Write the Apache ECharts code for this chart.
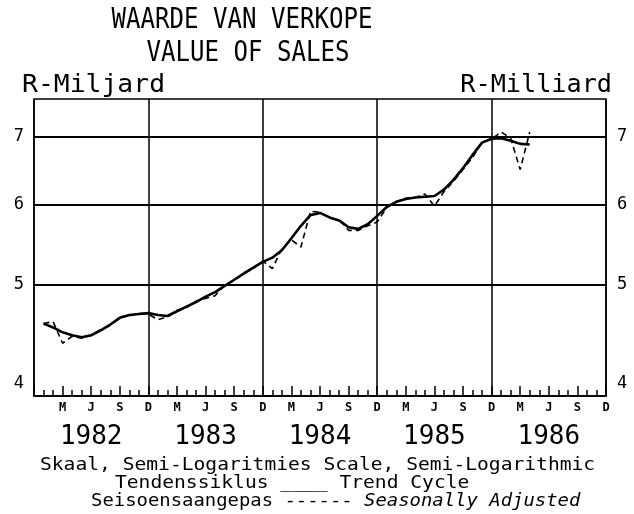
<!DOCTYPE html>
<html>
<head>
<meta charset="utf-8">
<script src="https://cdn.jsdelivr.net/npm/echarts@6/dist/echarts.min.js"></script>
<style>html,body{margin:0;padding:0;background:#fff}#c{width:634px;height:514px}</style>
</head>
<body>
<div id="c"></div>
<script>
// Months indexed from Dec 1981 (0) to Dec 1986 (60); series start at Jan 1982 (1)
const firstMonth = 1;
const trendCycle = [4.58,4.54,4.49,4.46,4.44,4.46,4.51,4.57,4.64,4.67,4.68,4.69,
  4.67,4.66,4.71,4.76,4.81,4.87,4.92,4.99,5.06,5.13,5.20,5.27,
  5.32,5.41,5.56,5.72,5.86,5.89,5.83,5.79,5.70,5.68,5.74,5.85,
  5.97,6.04,6.08,6.10,6.11,6.12,6.21,6.35,6.52,6.72,6.91,6.97,
  6.98,6.94,6.89,6.88];
const seasonallyAdjusted = [4.58,4.60,4.38,4.45,4.43,4.46,4.52,4.56,4.65,4.66,4.69,4.68,
  4.62,4.65,4.72,4.75,4.82,4.85,4.88,5.00,5.05,5.14,5.19,5.28,
  5.19,5.43,5.54,5.45,5.91,5.90,5.82,5.80,5.66,5.66,5.72,5.77,
  5.96,6.04,6.09,6.10,6.15,5.98,6.18,6.33,6.50,6.68,6.92,6.96,
  7.08,6.98,6.50,7.08];
const quarterLabels = {3:'M', 6:'J', 9:'S', 0:'D'};
const years = ['1982','1983','1984','1985','1986'];
const yLabelValues = [4,5,6,7];
const yGridValues = [5,6,7];

const mono = '"DejaVu Sans Mono", monospace';
const toPairs = arr => arr.map((v,i)=>[i+firstMonth, v]);

const yAxisBase = {
  type:'log', logBase:10, min:3.885, max:7.63,
  axisLine:{show:false},
  axisTick:{show:false, customValues: yGridValues},
  splitLine:{show:true, lineStyle:{color:'#000', width:1.8}},
};

const chart = echarts.init(document.getElementById('c'), null, {renderer:'canvas'});
chart.setOption({
  backgroundColor:'#fff',
  animation:false,
  grid:{left:34, right:28, top:99, bottom:118, show:true, borderColor:'#000', borderWidth:1.5},
  xAxis:[
    {type:'value', min:0, max:60, interval:3,
     axisLine:{show:true, lineStyle:{color:'#000', width:2}},
     axisTick:{show:true, inside:true, length:10, lineStyle:{color:'#000', width:1.5}},
     minorTick:{show:true, splitNumber:3, length:6, lineStyle:{color:'#000', width:1.5}},
     splitLine:{show:false},
     axisLabel:{margin:6, color:'#000', fontFamily:mono, fontWeight:'bold', fontSize:12,
       formatter: v => (v===0 ? '' : (quarterLabels[v%12] || ''))}},
    {type:'value', min:0, max:60, interval:6, position:'bottom',
     axisLine:{show:false}, axisTick:{show:false}, splitLine:{show:false},
     axisLabel:{margin:28, color:'#000', fontFamily:mono, fontSize:26,
       formatter: v => (v%12===6 ? years[(v-6)/12] : '')}},
    {type:'value', min:0, max:60, interval:12,
     axisLine:{show:false}, axisTick:{show:false}, axisLabel:{show:false},
     splitLine:{show:true, lineStyle:{color:'#000', width:1.5}}}
  ],
  yAxis:[
    Object.assign({}, yAxisBase, {position:'left',
      axisLabel:{customValues:yLabelValues, margin:10, color:'#000', fontFamily:mono, fontSize:17}}),
    Object.assign({}, yAxisBase, {position:'right', splitLine:{show:false},
      axisLabel:{customValues:yLabelValues, margin:11, color:'#000', fontFamily:mono, fontSize:17}})
  ],
  series:[
    {name:'Trend Cycle', type:'line', xAxisIndex:0, yAxisIndex:0, data:toPairs(trendCycle),
     showSymbol:false, lineStyle:{color:'#000', width:2.6}},
    {name:'Seasonally Adjusted', type:'line', xAxisIndex:0, yAxisIndex:0, data:toPairs(seasonallyAdjusted),
     showSymbol:false, lineStyle:{color:'#000', width:1.6, type:[6,4]}}
  ],
  graphic:[
    {type:'text', x:242, y:21, scaleX:0.86, style:{text:'WAARDE VAN VERKOPE', font:'28px '+mono, fill:'#000', align:'center', verticalAlign:'middle'}},
    {type:'text', x:248, y:54, scaleX:0.86, style:{text:'VALUE OF SALES', font:'28px '+mono, fill:'#000', align:'center', verticalAlign:'middle'}},
    {type:'text', x:22, y:86, scaleX:1.1, style:{text:'R-Miljard', font:'24px '+mono, fill:'#000', align:'left', verticalAlign:'middle'}},
    {type:'text', x:612, y:86, scaleX:1.05, style:{text:'R-Milliard', font:'24px '+mono, fill:'#000', align:'right', verticalAlign:'middle'}},
    {type:'text', x:40, y:465, scaleX:1.09, style:{text:'Skaal, Semi-Logaritmies Scale, Semi-Logarithmic', font:'18px '+mono, fill:'#000', align:'left', verticalAlign:'middle'}},
    {type:'text', x:115, y:483, scaleX:1.09, style:{text:'Tendenssiklus ____ Trend Cycle', font:'18px '+mono, fill:'#000', align:'left', verticalAlign:'middle'}},
    {type:'text', x:91, y:501, scaleX:1.05, style:{text:'Seisoensaangepas ------ {i|Seasonally Adjusted}', font:'18px '+mono, fill:'#000', align:'left', verticalAlign:'middle',
      rich:{i:{font:'italic 18px '+mono, fill:'#000'}}}}
  ]
});
</script>
</body>
</html>
